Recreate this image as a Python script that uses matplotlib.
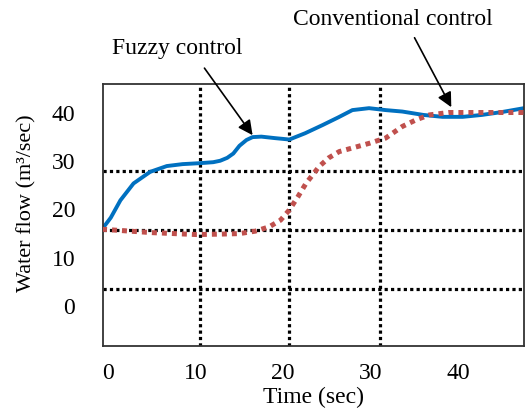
import matplotlib
matplotlib.use("Agg")
import matplotlib.pyplot as plt
from matplotlib.ticker import FixedLocator

plt.rcParams["font.family"] = ["Liberation Serif", "DejaVu Serif"]

# Fuzzy control (solid blue)
fuzzy_t = [-0.7, 0.3, 1.4, 2.9, 4.8, 6.7, 8.5, 10.5, 12.0, 12.8, 13.6, 14.3, 15.0,
           15.8, 16.5, 17.5, 19.0, 20.7, 22.5, 24.5, 26.3, 27.9, 29.8, 31.7, 33.6,
           36.0, 38.2, 40.5, 42.7, 45.0, 47.5]
fuzzy_q = [15.9, 18.3, 21.9, 25.4, 27.8, 29.0, 29.4, 29.6, 29.8, 30.1, 30.7, 31.6, 33.2,
           34.4, 35.0, 35.1, 34.8, 34.5, 35.8, 37.5, 39.1, 40.6, 41.0, 40.6, 40.3,
           39.6, 39.2, 39.2, 39.6, 40.2, 41.0]

# Conventional control (dotted red)
conv_t = [-0.7, 5.0, 10.1, 13.0, 15.0, 16.8, 18.4, 19.7, 20.7, 21.7, 22.6, 24.1,
          25.2, 26.4, 28.0, 29.8, 31.7, 33.6, 35.2, 36.7, 38.9, 47.5]
conv_q = [15.9, 15.2, 14.8, 14.9, 15.0, 15.5, 16.4, 17.8, 19.9, 22.7, 25.4, 28.9,
          30.7, 32.0, 32.8, 33.7, 34.8, 37.2, 38.6, 39.6, 40.1, 40.1]

x_ticks = [0, 10, 20, 30, 40]
y_ticks = [0, 10, 20, 30, 40]
# the dotted grid does not sit exactly on the labelled ticks in the source
x_grid = [10.5, 20.7, 31.0, 40.0]
y_grid = [3.5, 15.7, 28.0, 40.0]

fig = plt.figure(figsize=(5.25, 4.08), dpi=100)
ax = fig.add_axes([0.196, 0.152, 0.802, 0.642])

ax.plot(fuzzy_t, fuzzy_q, color="#0070C0", lw=2.8, solid_capstyle="round",
        solid_joinstyle="round", zorder=2)
ax.plot(conv_t, conv_q, color="#C0504D", lw=3.6, linestyle=(0, (1, 1)), zorder=3)

ax.set_xlim(-0.6, 47.5)
ax.set_ylim(-8.3, 46.0)
ax.set_xticks(x_ticks)
ax.set_yticks(y_ticks)
ax.xaxis.set_minor_locator(FixedLocator(x_grid))
ax.yaxis.set_minor_locator(FixedLocator(y_grid))
ax.tick_params(axis="both", which="both", length=0, labelsize=17)
ax.tick_params(axis="x", pad=12)
ax.tick_params(axis="y", pad=20)

ax.grid(True, which="minor", color="black", linestyle=(0, (1, 1)), lw=2.3)
ax.grid(False, which="major")
ax.set_axisbelow(True)

for s in ax.spines.values():
    s.set_color("#333333")
    s.set_linewidth(1.3)

ax.set_xlabel("Time (sec)", fontsize=17, labelpad=2)
ax.set_ylabel("Water flow (m³/sec)", fontsize=16)
ax.yaxis.set_label_coords(-0.158, 0.546)

ax.text(7.9, 53.4, "Fuzzy control", fontsize=17, ha="center", va="center")
ax.text(32.5, 59.4, "Conventional control", fontsize=17, ha="center", va="center")
arrow = dict(arrowstyle="-|>", color="black", lw=1.2, mutation_scale=22,
             shrinkA=0, shrinkB=0)
ax.annotate("", xy=(16.5, 35.4), xytext=(11.0, 49.3), arrowprops=arrow,
            annotation_clip=False)
ax.annotate("", xy=(39.2, 41.2), xytext=(35.0, 55.6), arrowprops=arrow,
            annotation_clip=False)

fig.savefig("out.png", dpi=100)
